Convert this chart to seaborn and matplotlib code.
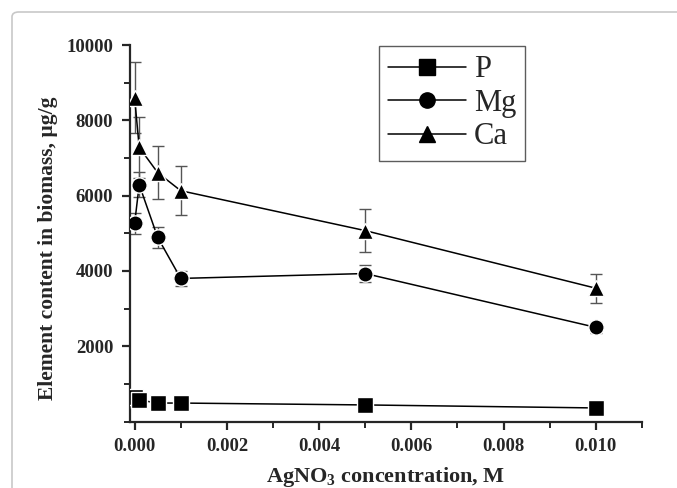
import numpy as np
import pandas as pd
import matplotlib
matplotlib.use("Agg")
import matplotlib.pyplot as plt
import seaborn as sns
from matplotlib.ticker import MultipleLocator
from matplotlib.patches import FancyBboxPatch

# Data
conc = [0.0, 0.0001, 0.0005, 0.001, 0.005, 0.010]

p_vals = [650, 570, 490, 490, 440, 360]
p_err = [0, 0, 0, 0, 0, 0]

mg_vals = [5260, 6290, 4890, 3800, 3930, 2500]
mg_err = [290, 330, 280, 210, 230, 150]

ca_vals = [8600, 7280, 6610, 6130, 5070, 3540]
ca_err = [950, 800, 700, 650, 570, 380]

elements = ["P", "Mg", "Ca"]
marker_shapes = {"P": "s", "Mg": "o", "Ca": "^"}

df = pd.concat([
    pd.DataFrame({"conc": conc, "value": p_vals, "err": p_err, "element": "P"}),
    pd.DataFrame({"conc": conc, "value": mg_vals, "err": mg_err, "element": "Mg"}),
    pd.DataFrame({"conc": conc, "value": ca_vals, "err": ca_err, "element": "Ca"}),
], ignore_index=True)

sns.set_style("ticks")
plt.rcParams["font.family"] = ["Liberation Serif", "DejaVu Serif"]
plt.rcParams["mathtext.fontset"] = "custom"
plt.rcParams["mathtext.rm"] = "Liberation Serif"
plt.rcParams["mathtext.bf"] = "Liberation Serif:bold"

fig = plt.figure(figsize=(6.77, 4.88), dpi=100)

# light frame around the picture
fig.patches.append(FancyBboxPatch(
    (12 / 677, -0.1), 1.2, (488 - 12) / 488 + 0.1,
    boxstyle="round,pad=0,rounding_size=0.01",
    transform=fig.transFigure, fill=False, edgecolor="#c8c8c8", linewidth=1.2))

ax = fig.add_axes([130 / 677, 1 - 421.5 / 488, 512 / 677, 376.5 / 488])

# error bars
for el in elements:
    sub = df[df["element"] == el]
    if sub["err"].sum() > 0:
        ax.errorbar(sub["conc"], sub["value"], yerr=sub["err"], fmt="none",
                    ecolor="#555555", elinewidth=1.0, capsize=4, capthick=1.0,
                    zorder=2)

sns.lineplot(
    data=df, x="conc", y="value", hue="element", style="element",
    hue_order=elements, style_order=elements,
    palette={e: "black" for e in elements},
    markers=marker_shapes, dashes=False, markersize=11,
    markeredgecolor="white", markeredgewidth=1.0,
    linewidth=1.1, ax=ax, zorder=3, legend=False,
)

ax.set_xlim(-0.0001, 0.011)
ax.set_ylim(0, 10000)
ax.xaxis.set_major_locator(MultipleLocator(0.002))
ax.xaxis.set_minor_locator(MultipleLocator(0.001))
ax.yaxis.set_major_locator(MultipleLocator(2000))
ax.yaxis.set_minor_locator(MultipleLocator(1000))
ax.set_yticks([2000, 4000, 6000, 8000, 10000])
ax.xaxis.set_major_formatter(matplotlib.ticker.FormatStrFormatter("%.3f"))

for side in ["top", "right"]:
    ax.spines[side].set_visible(False)
for side in ["left", "bottom"]:
    ax.spines[side].set_linewidth(1.6)

ax.tick_params(which="major", direction="out", length=6, width=1.6,
               labelsize=13.5, pad=6)
ax.tick_params(which="minor", direction="out", length=4, width=1.4)
for lab in ax.get_xticklabels() + ax.get_yticklabels():
    lab.set_fontweight("bold")

ax.set_xlabel("AgNO$_\\mathbf{3}$ concentration, M", fontsize=16,
              fontweight="bold", labelpad=7)
ax.set_ylabel("Element content in biomass, \u00b5g/g", fontsize=15.5,
              fontweight="bold")
ax.yaxis.set_label_coords(-0.14, 0.46)

# legend
handles = [
    matplotlib.lines.Line2D([], [], color="black", linewidth=1.1,
                            marker=marker_shapes[e], markersize=11)
    for e in elements
]
leg = ax.legend(handles, elements, loc="upper left",
                bbox_to_anchor=(0.486, 0.997), fontsize=22, frameon=True,
                fancybox=False, edgecolor="#333333", handlelength=2.55,
                handletextpad=0.26, borderpad=0.3, labelspacing=0.15,
                borderaxespad=0)
leg.get_frame().set_linewidth(1.0)

fig.savefig("out.png", dpi=100)
